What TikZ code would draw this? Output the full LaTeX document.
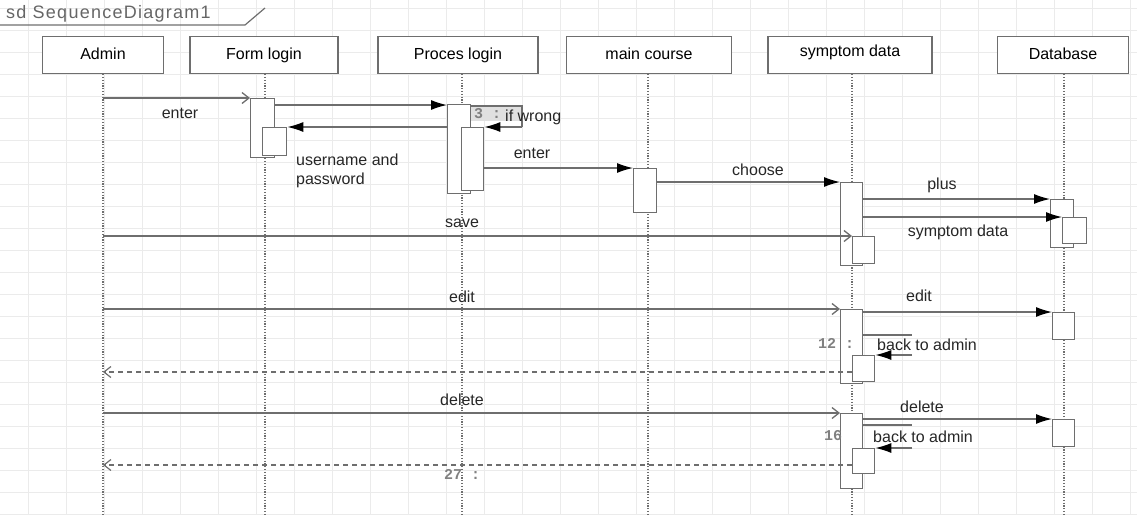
\documentclass[tikz,border=0pt]{standalone}
\usepackage{fontspec}
\setmainfont{Liberation Sans}
\newfontfamily\titlefont[LetterSpace=7]{Liberation Sans}
\newfontfamily\numfont{Liberation Mono}
\usetikzlibrary{arrows.meta,calc}
\definecolor{ln}{HTML}{6E6E6E}
\definecolor{gridc}{HTML}{EBEBEB}
\tikzset{
  head/.style={draw=ln, line width=1.3pt, fill=white, minimum height=37pt, inner sep=0pt, text height=11.5pt, text depth=3.5pt, font=\fontsize{16}{19}\selectfont},
  actbox/.style={draw=ln, line width=1.3pt, fill=white, anchor=north west, inner sep=0pt},
  lifeln/.style={draw=ln, line width=1.6pt, dash pattern=on 1.2pt off 1.6pt},
  sync/.style={draw=ln, line width=1.3pt, -{Latex[length=16pt,width=10pt,color=black]}},
  async/.style={draw=ln, line width=1.3pt, -{Straight Barb[length=7pt,width=11pt]}},
  ret/.style={draw=ln, line width=1.2pt, dash pattern=on 5pt off 4pt, -{Straight Barb[length=7pt,width=11pt]}},
  plain/.style={draw=ln, line width=1.3pt},
  lbl/.style={inner sep=0pt, font=\fontsize{16}{19}\selectfont, text=black!85},
  num/.style={inner sep=0pt, font=\numfont\bfseries\fontsize{15}{17}\selectfont, text=gray}
}
\begin{document}
\begin{tikzpicture}[x=1pt,y=-1pt]
\useasboundingbox (0,0) rectangle (1137,515);
% grid
\foreach \gx in {28,66,...,1137} \draw[gridc, line width=0.8pt] (\gx,0) -- (\gx,515);
\foreach \gy in {8,30,...,515} \draw[gridc, line width=0.8pt] (0,\gy) -- (1137,\gy);
% frame tab
\draw[ln, line width=1.2pt] (0,25) -- (245,25) -- (265,8);
\node[anchor=west, inner sep=0pt, text=black!60, font=\titlefont\fontsize{18}{20}\selectfont] (title) at (6,14) {sd SequenceDiagram1};
% heads
\node[head, minimum width=121pt] (admin) at (103,55) {Admin};
\node[head, minimum width=148pt] (form) at (264,55) {Form login};
\node[head, minimum width=160pt] (proc) at (458,55) {Proces login};
\node[head, minimum width=165pt] (main) at (649,55) {main course};
\node[head, minimum width=164pt] (symp) at (850,55) {\raisebox{3pt}{symptom data}};
\node[head, minimum width=131pt] (db) at (1063,55) {Database};
% lifelines
\coordinate (adminE) at (103,515);
\coordinate (formE) at (265,515);
\coordinate (procE) at (462,515);
\coordinate (mainE) at (648,515);
\coordinate (sympE) at (852,515);
\coordinate (dbE) at (1064,515);
\draw[lifeln] (admin.south -| adminE) -- (adminE);
\draw[lifeln] (form.south -| formE) -- (formE);
\draw[lifeln] (proc.south -| procE) -- (procE);
\draw[lifeln] (main.south -| mainE) -- (mainE);
\draw[lifeln] (symp.south -| sympE) -- (sympE);
\draw[lifeln] (db.south -| dbE) -- (dbE);
% activations
\node[actbox, minimum width=24pt, minimum height=59pt] (A1) at (250,98) {};
\node[actbox, minimum width=24pt, minimum height=28pt] (A2) at (262,127) {};
\node[actbox, minimum width=23pt, minimum height=89pt] (B1) at (447,104) {};
\node[actbox, minimum width=22pt, minimum height=63pt] (B2) at (461,127) {};
\node[actbox, minimum width=23pt, minimum height=44pt] (C1) at (633,168) {};
\node[actbox, minimum width=22pt, minimum height=83pt] (D1) at (840,182) {};
\node[actbox, minimum width=22pt, minimum height=27pt] (D2) at (852,236) {};
\node[actbox, minimum width=23pt, minimum height=48pt] (E1) at (1050,199) {};
\node[actbox, minimum width=24pt, minimum height=26pt] (E2) at (1062,217) {};
\node[actbox, minimum width=22pt, minimum height=74pt] (D3) at (840,309) {};
\node[actbox, minimum width=22pt, minimum height=26pt] (D4) at (852,355) {};
\node[actbox, minimum width=22pt, minimum height=27pt] (E3) at (1052,312) {};
\node[actbox, minimum width=22pt, minimum height=75pt] (D5) at (840,413) {};
\node[actbox, minimum width=22pt, minimum height=25pt] (D6) at (852,448) {};
\node[actbox, minimum width=22pt, minimum height=27pt] (E4) at (1052,419) {};
% messages
\draw[async] (adminE |- A1.north) -- (A1.north west);
\node[lbl] (l1) at (180,113) {enter};
\draw[sync] ($(A1.north east)+(0,7)$) -- ($(B1.north west)+(0,1)$);
% self call 3
\coordinate (s3a) at (522,106);
\coordinate (s3b) at (522,127);
\fill[black!12] (471,106) rectangle (521,121);
\draw[plain] (B1.east |- s3a) -- (s3a) -- (s3b);
\draw[sync] (s3b) -- (B2.north east);
\node[num, anchor=west] (n3) at (474,114) {3 :};
\node[lbl, anchor=west] (l3) at (505,117) {if wrong};
% return to form
\draw[sync] (B1.west |- A2.north) -- (A2.north east);
\node[lbl, anchor=north west, align=left] (l2) at (296,154) {username and\\password};
% enter to main course
\draw[sync] (B2.east |- C1.north) -- (C1.north west);
\node[lbl] (l4) at (532,153) {enter};
% choose
\draw[sync] ($(C1.north east)+(0,14)$) -- (D1.north west);
\node[lbl] (l5) at (758,170) {choose};
% plus
\draw[sync] (D1.east |- E1.north) -- (E1.north west);
\node[lbl] (l6) at (942,185) {plus};
% symptom data
\draw[sync] (D1.east |- E2.north) -- (E2.north west);
\node[lbl] (l7) at (958,232) {symptom data};
% save
\draw[async] (adminE |- D2.north) -- (D2.north west);
\node[lbl] (l8) at (462,223) {save};
% edit
\draw[async] (adminE |- D3.north) -- (D3.north west);
\node[lbl] (l9) at (462,297) {edit};
\draw[sync] (D3.east |- E3.north) -- (E3.north west);
\node[lbl] (l10) at (919,296) {edit};
% self 12
\coordinate (s12a) at (912,335);
\coordinate (s12b) at (912,355);
\draw[plain] (D3.east |- s12a) -- (s12a);
\draw[sync] (s12b) -- (D4.north east);
\node[num] (n12) at (836,343) {12 :};
\node[lbl, anchor=west] (l11) at (877,345) {back to admin};
\draw[ret] (D4.west |- 0,372) -- (adminE |- 0,372);
% delete
\draw[async] (adminE |- D5.north) -- (D5.north west);
\node[lbl] (l12) at (462,400) {delete};
\draw[sync] (D5.east |- E4.north) -- (E4.north west);
\node[lbl] (l13) at (922,407) {delete};
% self 16
\coordinate (s16a) at (912,425);
\coordinate (s16b) at (912,448);
\draw[plain] (D5.east |- s16a) -- (s16a);
\draw[sync] (s16b) -- (D6.north east);
\node[num] (n16) at (833,436) {16};
\node[lbl, anchor=west] (l14) at (873,437) {back to admin};
\draw[ret] (D6.west |- 0,465) -- (adminE |- 0,465);
\node[num] (n27) at (462,474) {27 :};
\end{tikzpicture}
\end{document}
